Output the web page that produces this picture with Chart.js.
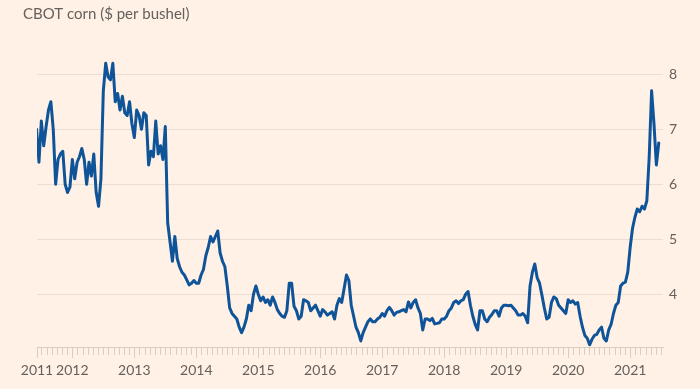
<!DOCTYPE html>
<html>
<head>
<meta charset="utf-8">
<script src="https://cdn.jsdelivr.net/npm/chart.js@4.4.0/dist/chart.umd.min.js"></script>
<style>
html,body{margin:0;padding:0;background:#fff1e5;}
#wrap{width:700px;height:389px;}
</style>
</head>
<body>
<div id="wrap"><canvas id="chart" width="700" height="389"></canvas></div>
<script>
const titleText = "CBOT corn ($ per bushel)";

// fortnightly closes, 26 per year
// 2011 starts at fortnight 11 (early June)
const corn2011 = [7.0,6.4,7.15,6.7,7.05,7.35,7.5,7.0,6.0,6.45,6.55,6.6,6.0,5.85,5.95];
const corn2012 = [6.45,6.1,6.4,6.5,6.65,6.45,6.0,6.4,6.15,6.55,5.85,5.6,6.1,7.7,8.2,7.95,7.9,8.2,7.5,7.65,7.35,7.6,7.3,7.25,7.5,7.1];
const corn2013 = [6.85,7.35,7.25,7.0,7.3,7.25,6.35,6.6,6.5,7.15,6.55,6.7,6.45,7.05,5.3,4.95,4.6,5.05,4.65,4.5,4.4,4.35,4.26,4.17,4.2,4.25];
const corn2014 = [4.2,4.2,4.35,4.45,4.7,4.85,5.05,4.95,5.05,5.15,4.75,4.6,4.5,4.15,3.75,3.65,3.6,3.55,3.4,3.3,3.4,3.55,3.8,3.7,4.0,4.15];
const corn2015 = [4.0,3.88,3.95,3.85,3.9,3.8,3.95,3.85,3.72,3.65,3.6,3.58,3.7,4.2,4.2,3.78,3.7,3.55,3.6,3.9,3.88,3.85,3.7,3.75,3.8,3.7];
const corn2016 = [3.6,3.72,3.68,3.62,3.65,3.68,3.55,3.8,3.92,3.85,4.1,4.35,4.25,3.8,3.6,3.4,3.3,3.15,3.3,3.4,3.5,3.55,3.5,3.5,3.55,3.58];
const corn2017 = [3.65,3.6,3.7,3.76,3.7,3.62,3.67,3.68,3.7,3.72,3.68,3.86,3.75,3.85,3.9,3.75,3.65,3.35,3.55,3.55,3.52,3.56,3.46,3.47,3.48,3.55];
const corn2018 = [3.55,3.6,3.7,3.75,3.85,3.88,3.83,3.88,3.9,4.0,4.05,3.8,3.6,3.45,3.35,3.7,3.7,3.55,3.5,3.58,3.63,3.7,3.7,3.6,3.75,3.8];
const corn2019 = [3.8,3.79,3.8,3.75,3.7,3.62,3.62,3.65,3.6,3.48,4.15,4.4,4.55,4.3,4.2,3.98,3.75,3.55,3.58,3.85,3.95,3.92,3.8,3.75,3.7,3.65];
const corn2020 = [3.9,3.85,3.88,3.82,3.85,3.6,3.4,3.25,3.2,3.08,3.18,3.25,3.27,3.35,3.4,3.2,3.15,3.35,3.45,3.65,3.8,3.85,4.15,4.2,4.22,4.4];
const corn2021 = [4.85,5.2,5.4,5.55,5.5,5.6,5.55,5.7,6.5,7.7,7.1,6.35,6.75];

const yearTicks = [2012,2013,2014,2015,2016,2017,2018,2019,2020,2021];
const priceTicks = [4,5,6,7,8];

const seriesByYear = [
  [2011, corn2011, 11],
  [2012, corn2012, 0],
  [2013, corn2013, 0],
  [2014, corn2014, 0],
  [2015, corn2015, 0],
  [2016, corn2016, 0],
  [2017, corn2017, 0],
  [2018, corn2018, 0],
  [2019, corn2019, 0],
  [2020, corn2020, 0],
  [2021, corn2021, 0]
];

const points = [];
seriesByYear.forEach(([yr, vals, off]) => {
  vals.forEach((v, i) => points.push({x: yr + (i + off) / 26, y: v}));
});

const xMin = 2011.43, xMax = 2021.53;
const textGrey = "#66605c";
const gridCol = "#e9ded4";
const tickCol = "#d9cdc3";

// background, title, monthly minor ticks
const ftDecor = {
  id: "ftDecor",
  beforeDraw(chart) {
    const c = chart.ctx;
    c.save();
    c.fillStyle = "#fff1e5";
    c.fillRect(0, 0, chart.width, chart.height);
    c.fillStyle = textGrey;
    c.font = "15px Lato";
    c.textBaseline = "alphabetic";
    c.fillText(titleText, 23, 19);
    c.restore();
  },
  beforeDatasetsDraw(chart) {
    const c = chart.ctx, xs = chart.scales.x;
    const b = chart.chartArea.bottom;
    c.save();
    c.strokeStyle = tickCol;
    c.lineWidth = 1;
    for (let yr = 2011; yr <= 2021; yr++) {
      for (let m = 0; m < 12; m++) {
        const v = yr + m / 12;
        if (v < xMin || v > xMax) continue;
        const px = Math.round(xs.getPixelForValue(v)) + 0.5;
        c.beginPath();
        c.moveTo(px, b);
        c.lineTo(px, b + 8);
        c.stroke();
      }
    }
    c.restore();
  }
};

new Chart(document.getElementById("chart"), {
  type: "line",
  data: {
    datasets: [{
      data: points,
      borderColor: "#0f5499",
      borderWidth: 3,
      borderJoinStyle: "round",
      borderCapStyle: "round",
      pointRadius: 0,
      tension: 0,
      fill: false
    }]
  },
  options: {
    responsive: false,
    animation: false,
    layout: {padding: {left: 37, right: 0, top: 46.8, bottom: 0}},
    plugins: {legend: {display: false}, tooltip: {enabled: false}, title: {display: false}},
    scales: {
      x: {
        type: "linear",
        min: xMin,
        max: xMax,
        afterBuildTicks: s => { s.ticks = [xMin].concat(yearTicks).map(v => ({value: v})); },
        afterFit: s => { s.height = 42; },
        grid: {drawOnChartArea: false, drawTicks: true, tickLength: 11, color: tickCol},
        border: {display: true, color: tickCol},
        ticks: {
          autoSkip: false,
          maxRotation: 0,
          padding: 4,
          color: textGrey,
          font: {family: "Lato", size: 14},
          callback: v => v === xMin ? "2011" : String(v)
        }
      },
      y: {
        position: "right",
        min: 3.04,
        max: 8.5,
        afterBuildTicks: s => { s.ticks = priceTicks.map(v => ({value: v})); },
        afterFit: s => { s.width = 37; },
        grid: {color: gridCol, drawTicks: false},
        border: {display: false},
        ticks: {
          padding: 6,
          color: textGrey,
          font: {family: "Lato", size: 14}
        }
      }
    }
  },
  plugins: [ftDecor]
});
</script>
</body>
</html>
